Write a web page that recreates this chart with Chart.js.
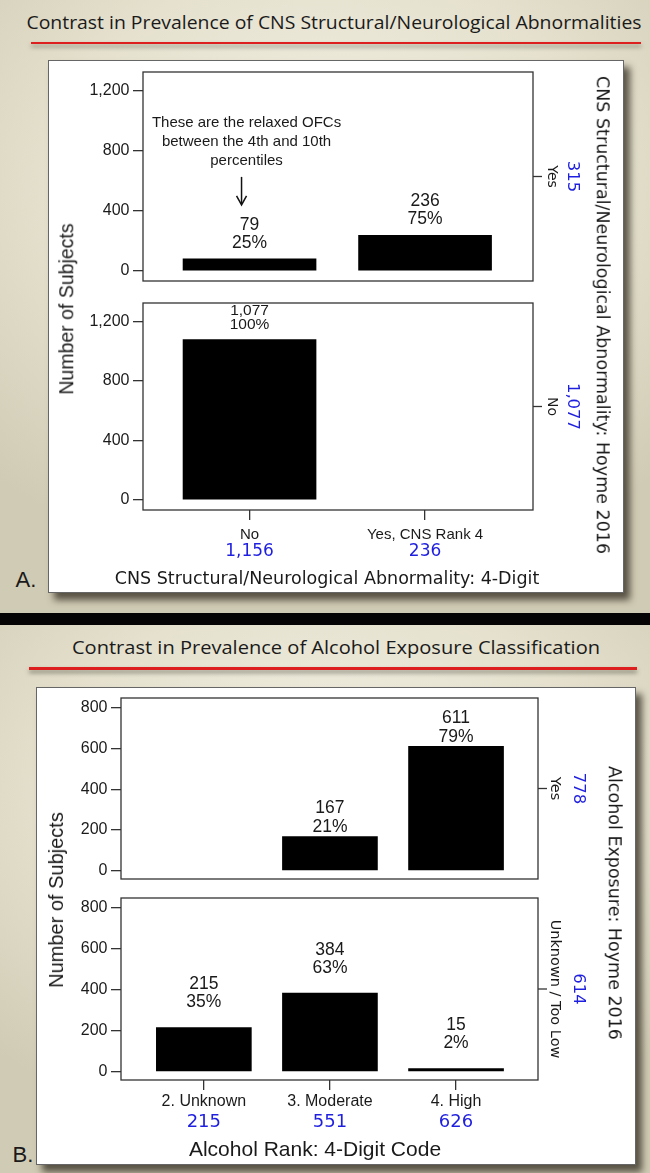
<!DOCTYPE html>
<html>
<head>
<meta charset="utf-8">
<script src="https://cdn.jsdelivr.net/npm/chart.js@4.4.1/dist/chart.umd.min.js"></script>
<style>
html, body { margin: 0; padding: 0; }
body { width: 650px; height: 1173px; position: relative; overflow: hidden; background: #070405; color: #1a1a1a; }
.slide { position: absolute; left: 0; width: 650px;
  background: radial-gradient(ellipse 75% 65% at 50% 30%, #f3f1e6 0%, #e5e1ce 55%, #d0cbb4 100%); }
.frame { position: absolute; background: #fff; border: 1px solid #666; box-sizing: border-box;
  box-shadow: 6px 7px 7px rgba(45, 40, 30, .75); }
.rule { position: absolute; height: 2.5px; background: #dd1f1f; box-shadow: 0 3px 4px rgba(60, 60, 50, .55); }
.t { position: absolute; white-space: nowrap; line-height: 1; transform: translate(-50%, -50%); }
.head { font-family: 'Open Sans', 'Noto Sans', sans-serif; font-size: 18.5px; color: #1a1a1a; }
.arial { font-family: 'Liberation Sans', Arial, sans-serif; }
.dejavu { font-family: 'DejaVu Sans', Verdana, sans-serif; }
canvas { position: absolute; }
</style>
</head>
<body>
<div class="slide" style="top:0;height:613px"></div>
<div class="slide" style="top:625px;height:548px"></div>

<div class="t head" data-w="615" style="left:334px;top:22px">Contrast in Prevalence of CNS Structural/Neurological Abnormalities</div>
<div class="rule" style="left:31px;top:41.5px;width:610px"></div>
<div class="frame" style="left:48px;top:60px;width:576px;height:533px"></div>

<div class="t head" data-w="528" style="left:336px;top:647px">Contrast in Prevalence of Alcohol Exposure Classification</div>
<div class="rule" style="left:29px;top:667px;width:608px"></div>
<div class="frame" style="left:36px;top:687px;width:600px;height:478px"></div>

<canvas id="aTop" width="576" height="249" style="left:48px;top:52px"></canvas>
<canvas id="aBot" width="576" height="283" style="left:48px;top:283px"></canvas>
<canvas id="bTop" width="599" height="221" style="left:36px;top:678px"></canvas>
<canvas id="bBot" width="599" height="256" style="left:36px;top:878px"></canvas>

<div class="t arial" style="left:67px;top:309px;font-size:19.5px;transform:translate(-50%,-50%) rotate(-90deg)">Number of Subjects</div>
<div class="t dejavu" style="left:602px;top:315px;font-size:17.5px;transform:translate(-50%,-50%) rotate(90deg)">CNS Structural/Neurological Abnormality: Hoyme 2016</div>
<div class="t dejavu" style="left:327px;top:579px;font-size:17.5px">CNS Structural/Neurological Abnormality: 4-Digit</div>
<div class="t arial" style="left:26px;top:580px;font-size:22px">A.</div>

<div class="t arial" style="left:56px;top:900px;font-size:20px;transform:translate(-50%,-50%) rotate(-90deg)">Number of Subjects</div>
<div class="t dejavu" style="left:614px;top:903px;font-size:17.5px;transform:translate(-50%,-50%) rotate(90deg)">Alcohol Exposure: Hoyme 2016</div>
<div class="t arial" style="left:315px;top:1148px;font-size:21px">Alcohol Rank: 4-Digit Code</div>
<div class="t arial" style="left:23px;top:1155px;font-size:22px">B.</div>

<script>
// Panel A: CNS structural / neurological abnormality
const cnsCats = ['No', 'Yes, CNS Rank 4'];
const cnsTotals = [1156, 236];
const cnsRows = ['Yes', 'No'];
const cnsRowTotals = [315, 1077];
const cnsYes = [79, 236];
const cnsYesPct = [25, 75];
const cnsNo = [1077, null];
const cnsNoPct = [100, null];
const cnsTicks = [0, 400, 800, 1200];
const noteLines = ['These are the relaxed OFCs', 'between the 4th and 10th', 'percentiles'];

// Panel B: alcohol exposure
const alcCats = ['2. Unknown', '3. Moderate', '4. High'];
const alcTotals = [215, 551, 626];
const alcRows = ['Yes', 'Unknown / Too Low'];
const alcRowTotals = [778, 614];
const alcYes = [null, 167, 611];
const alcYesPct = [null, 21, 79];
const alcLow = [215, 384, 15];
const alcLowPct = [35, 63, 2];
const alcTicks = [0, 200, 400, 600, 800];

const ARIAL = "'Liberation Sans', Arial, sans-serif";
const DEJAVU = "'DejaVu Sans', Verdana, sans-serif";
const BLUE = '#1f1fe0';
const INK = '#1a1a1a';
const fmt = v => v.toLocaleString('en-US');

const panelText = {
  id: 'panelText',
  afterDatasetsDraw(chart, args, o) {
    const { ctx, chartArea: a } = chart;
    ctx.save();
    ctx.strokeStyle = '#333';
    ctx.lineWidth = 1.3;
    ctx.strokeRect(a.left, a.top, a.right - a.left, a.bottom - a.top);

    const mid = (a.top + a.bottom) / 2;
    ctx.beginPath();
    ctx.moveTo(a.right, mid);
    ctx.lineTo(a.right + 9, mid);
    ctx.stroke();

    ctx.textAlign = 'center';
    ctx.textBaseline = 'middle';
    ctx.save();
    ctx.translate(a.right + o.rowDx, mid);
    ctx.rotate(Math.PI / 2);
    ctx.fillStyle = INK;
    ctx.font = o.rowSize + 'px ' + DEJAVU;
    ctx.fillText(o.row, 0, 0);
    ctx.restore();
    ctx.save();
    ctx.translate(a.right + o.totDx, mid);
    ctx.rotate(Math.PI / 2);
    ctx.fillStyle = BLUE;
    ctx.font = '16.5px ' + DEJAVU;
    ctx.fillText(fmt(o.rowTotal), 0, 0);
    ctx.restore();

    // counts and percents above the bars
    const meta = chart.getDatasetMeta(0);
    ctx.fillStyle = INK;
    ctx.font = o.lblSize + 'px ' + ARIAL;
    meta.data.forEach((bar, i) => {
      const v = o.values[i];
      if (v == null) return;
      ctx.fillText(fmt(v), bar.x, bar.y + o.off[0]);
      ctx.fillText(o.pcts[i] + '%', bar.x, bar.y + o.off[1]);
    });

    // category names and column totals under the x axis
    if (o.cats) {
      const xs = chart.scales.x;
      o.cats.forEach((c, i) => {
        const px = xs.getPixelForValue(i);
        ctx.fillStyle = INK;
        ctx.font = o.catSize + 'px ' + ARIAL;
        ctx.fillText(c, px, a.bottom + o.catDy);
        ctx.fillStyle = BLUE;
        ctx.font = o.totSize + 'px ' + DEJAVU;
        ctx.fillText(fmt(o.totals[i]), px, a.bottom + o.totDy);
      });
    }

    if (o.note) {
      const b = meta.data[0];
      ctx.fillStyle = INK;
      ctx.font = '15px ' + ARIAL;
      o.note.forEach((line, k) => ctx.fillText(line, b.x - 3, b.y - 136 + k * 19));
      const ax = b.x - 8, y0 = b.y - 82, y1 = b.y - 54;
      ctx.strokeStyle = '#111';
      ctx.lineWidth = 1.5;
      ctx.beginPath();
      ctx.moveTo(ax, y0);
      ctx.lineTo(ax, y1 - 1);
      ctx.stroke();
      ctx.beginPath();
      ctx.moveTo(ax - 5, y1 - 9);
      ctx.lineTo(ax, y1);
      ctx.lineTo(ax + 5, y1 - 9);
      ctx.stroke();
    }
    ctx.restore();
  }
};

function makeChart(id, o) {
  const idx = o.values.map((v, i) => i);
  const scales = {
    y: {
      position: 'left', min: o.min, max: o.max, bounds: 'data',
      afterBuildTicks: s => { s.ticks = o.ticks.map(v => ({ value: v })); },
      afterFit: s => { s.width = o.yW; },
      grid: { display: true, drawOnChartArea: false, drawTicks: true, tickLength: 10, color: '#333', lineWidth: 1.3 },
      border: { display: false },
      ticks: { padding: 3.5, color: INK, font: { family: ARIAL, size: 16 }, callback: v => fmt(v) }
    }
  };
  if (o.cats) {
    scales.x = {
      type: 'linear', position: 'bottom', min: o.xmin, max: o.xmax, offset: false, bounds: 'data',
      afterBuildTicks: s => { s.ticks = idx.map(i => ({ value: i })); },
      grid: { display: true, drawOnChartArea: false, drawTicks: true, tickLength: 10, color: '#333', lineWidth: 1.3, offset: false },
      border: { display: false },
      ticks: { display: false }
    };
  } else {
    scales.x = { type: 'linear', display: false, min: o.xmin, max: o.xmax, offset: false, bounds: 'data', grid: { offset: false } };
  }

  return new Chart(document.getElementById(id), {
    type: 'bar',
    data: {
      datasets: [{
        data: o.values.map((v, i) => ({ x: i, y: v })),
        xAxisID: 'x', yAxisID: 'y',
        backgroundColor: '#000', borderWidth: 0,
        barThickness: o.barW
      }]
    },
    options: {
      responsive: false, animation: false, devicePixelRatio: 1,
      layout: { padding: o.pad },
      scales,
      plugins: {
        legend: { display: false }, tooltip: { enabled: false },
        panelText: { row: o.row, rowTotal: o.rowTotal, rowDx: o.rowDx, totDx: o.totDx, rowSize: o.rowSize,
          values: o.values, pcts: o.pcts, off: o.off, lblSize: o.lblSize, note: o.note,
          cats: o.cats, totals: o.totals, catSize: o.catSize, catDy: o.catDy, totSize: o.totSize, totDy: o.totDy }
      }
    },
    plugins: [panelText]
  });
}

const aX = { xmin: -0.607, xmax: 1.615, min: -68, max: 1322, ticks: cnsTicks, yW: 95, barW: 133, rowDx: 19, totDx: 39, rowSize: 14, lblSize: 17.5 };
const bX = { xmin: -0.657, xmax: 2.65, min: -41, max: 848, ticks: alcTicks, yW: 85, barW: 95, rowDx: 17, totDx: 40, rowSize: 14.5, lblSize: 17.5 };

makeChart('aTop', Object.assign({}, aX, {
  values: cnsYes, pcts: cnsYesPct, row: cnsRows[0], rowTotal: cnsRowTotals[0],
  off: [-34, -16], note: noteLines, pad: { top: 20, right: 91, bottom: 20, left: 0 }
}));
makeChart('aBot', Object.assign({}, aX, {
  values: cnsNo, pcts: cnsNoPct, row: cnsRows[1], rowTotal: cnsRowTotals[1],
  off: [-29, -15], lblSize: 15.5, pad: { top: 20, right: 91, bottom: 46, left: 0 },
  cats: cnsCats, totals: cnsTotals, catSize: 15, catDy: 25, totSize: 17, totDy: 42
}));
makeChart('bTop', Object.assign({}, bX, {
  values: alcYes, pcts: alcYesPct, row: alcRows[0], rowTotal: alcRowTotals[0],
  off: [-28, -9], pad: { top: 20, right: 97, bottom: 20, left: 0 }
}));
makeChart('bBot', Object.assign({}, bX, {
  values: alcLow, pcts: alcLowPct, row: alcRows[1], rowTotal: alcRowTotals[1],
  off: [-43, -25], pad: { top: 20, right: 97, bottom: 44, left: 0 },
  cats: alcCats, totals: alcTotals, catSize: 16, catDy: 22, totSize: 18, totDy: 42
}));

// stretch the slide headings to the width they have in the original
function fitHeads() {
  document.querySelectorAll('.head').forEach(el => {
    const k = el.dataset.w / el.offsetWidth;
    el.style.transform = 'translate(-50%, -50%) scaleX(' + k.toFixed(3) + ')';
  });
}
fitHeads();
if (document.fonts) document.fonts.ready.then(fitHeads);
</script>
</body>
</html>
